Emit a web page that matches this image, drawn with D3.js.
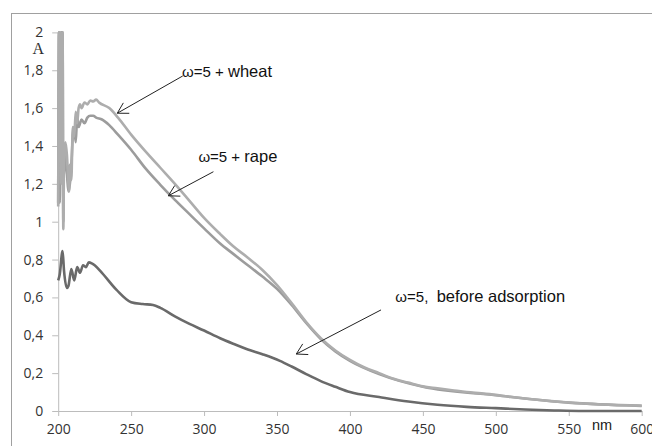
<!DOCTYPE html>
<html>
<head>
<meta charset="utf-8">
<script src="https://cdn.jsdelivr.net/npm/d3@7"></script>
<style>
  body { margin: 0; background: #fff; }
  svg { display: block; }
</style>
</head>
<body>
<div id="chart"></div>
<script>
// wavelengths (nm) and absorbance for each spectrum
var wheatNm = [200,200.5,201.5,202,202.5,203,203.5,204,205,206,207,207.5,208,209,210,211,212,213,214,215,216,218,220,222,224,226,228,235,241,250,260,270,280,290,300,311,320,330,340,350,360,370,380,390,400,410,420,430,440,450,460,470,480,490,500,510,520,530,540,550,560,570,580,590,600];
var wheatA  = [1.08,2.0,2.0,1.2,2.0,2.0,0.96,1.3,1.42,1.35,1.2,1.16,1.3,1.22,1.5,1.45,1.58,1.52,1.6,1.62,1.6,1.63,1.62,1.64,1.635,1.645,1.63,1.6,1.55,1.46,1.37,1.285,1.2,1.11,1.02,0.935,0.87,0.81,0.745,0.665,0.57,0.47,0.385,0.32,0.27,0.23,0.2,0.17,0.15,0.13,0.12,0.11,0.1,0.093,0.085,0.075,0.066,0.058,0.051,0.045,0.04,0.036,0.032,0.03,0.028];

var rapeNm = [200,200.5,201,202,203,203.5,204,205,206,207,208,209,210,211,212,213,214,215,216,218,220,222,224,226,230,235,241,250,260,270,280,290,300,311,320,330,340,350,360,370,380,390,400,420,450,500,550,600];
var rapeA  = [1.1,2.0,1.1,2.0,2.0,1.0,1.4,1.3,1.25,1.16,1.2,1.3,1.45,1.5,1.42,1.55,1.5,1.52,1.54,1.52,1.55,1.56,1.56,1.55,1.54,1.51,1.46,1.38,1.28,1.195,1.115,1.04,0.965,0.885,0.83,0.77,0.71,0.645,0.56,0.465,0.38,0.315,0.265,0.195,0.128,0.083,0.044,0.027];

var beforeNm = [200,201,203,204,206,207,209,211,213,215,217,219,221,223,225,230,240,250,258,265,270,280,290,300,311,320,330,340,352,360,370,380,390,400,420,440,460,480,500,520,540,560,580,600];
var beforeA  = [0.69,0.72,0.845,0.74,0.65,0.66,0.75,0.69,0.76,0.73,0.77,0.76,0.785,0.78,0.77,0.73,0.64,0.575,0.565,0.56,0.545,0.5,0.46,0.425,0.384,0.355,0.325,0.3,0.265,0.235,0.195,0.158,0.128,0.1,0.074,0.05,0.033,0.022,0.015,0.008,0.003,0.0,0.0,0.0];

var xTicks = [200,250,300,350,400,450,500,550,600];
var yTicks = [0,0.2,0.4,0.6,0.8,1,1.2,1.4,1.6,1.8,2];
var yTickLabels = ["0","0,2","0,4","0,6","0,8","1","1,2","1,4","1,6","1,8","2"];

// annotations: label position and arrow (start -> tip) in data units
var notes = [
  {pre: "ω=5 + ", post: "wheat", x: 284.9, y: 1.764, x1: 285.4, y1: 1.77, x2: 240.5, y2: 1.573},
  {pre: "ω=5 + ", post: "rape", x: 296.1, y: 1.313, x1: 306.4, y1: 1.264, x2: 275.5, y2: 1.137},
  {pre: "ω=5,  ", post: "before adsorption", x: 431.1, y: 0.577, x1: 421.3, y1: 0.534, x2: 363.2, y2: 0.301}
];

var width = 652,
    height = 446;

var svg = d3.select("#chart").append("svg")
    .attr("width", width)
    .attr("height", height);

// outer frame (only top and left are inside the picture)
svg.append("rect")
    .attr("x", 11.5).attr("y", 13.5)
    .attr("width", 800).attr("height", 600)
    .attr("fill", "none")
    .attr("stroke", "#a0a0a0");

var x = d3.scaleLinear().domain([200, 600]).range([58.2, 641.7]);
var y = d3.scaleLinear().domain([0, 2]).range([411, 32.4]);

// axes
var xAxis = svg.append("g")
    .attr("transform", "translate(0," + y(0) + ")")
    .call(d3.axisBottom(x).tickValues(xTicks).tickSize(5).tickPadding(8).tickSizeOuter(0));
var yAxis = svg.append("g")
    .attr("transform", "translate(" + x(200) + ",0)")
    .call(d3.axisLeft(y).tickValues(yTicks).tickSize(6).tickPadding(9).tickSizeOuter(0)
      .tickFormat((d, i) => yTickLabels[i]));

[xAxis, yAxis].forEach(g => {
  g.select(".domain").attr("stroke", "#bcbcbc");
  g.selectAll(".tick line").attr("stroke", "#bcbcbc");
  g.selectAll(".tick text")
    .attr("fill", "#333")
    .style("font-family", "'Open Sans', sans-serif")
    .style("font-size", "14px");
});

svg.append("text")
    .attr("x", 44).attr("y", 54)
    .attr("text-anchor", "end")
    .style("font-family", "'Liberation Serif', serif")
    .style("font-size", "16px")
    .attr("fill", "#303030")
    .text("A");

svg.append("text")
    .attr("x", 592).attr("y", 430)
    .style("font-family", "'Liberation Sans', Arial, sans-serif")
    .style("font-size", "14.5px")
    .attr("fill", "#202020")
    .text("nm");

// spectra
var line = d3.line()
    .x(d => x(d[0]))
    .y(d => y(d[1]))
    .curve(d3.curveMonotoneX);

var series = [
  {nm: beforeNm, a: beforeA, color: "#6a6a6a"},
  {nm: rapeNm, a: rapeA, color: "#9c9c9c"},
  {nm: wheatNm, a: wheatA, color: "#adadad"}
];

svg.selectAll("path.spec")
    .data(series)
    .enter()
    .append("path")
    .attr("class", "spec")
    .attr("fill", "none")
    .attr("stroke", d => d.color)
    .attr("stroke-width", 2.6)
    .attr("stroke-linejoin", "round")
    .attr("d", d => line(d.nm.map((v, i) => [v, d.a[i]])));

// annotations
notes.forEach(n => {
  var t = svg.append("text")
      .attr("x", x(n.x)).attr("y", y(n.y))
      .attr("fill", "#111")
      .style("font-family", "'Liberation Sans', Arial, sans-serif")
      .style("white-space", "pre");
  t.append("tspan").style("font-size", "15px").text(n.pre);
  t.append("tspan").style("font-size", "16.5px").text(n.post);

  var sx = x(n.x1), sy = y(n.y1), tx = x(n.x2), ty = y(n.y2);
  svg.append("line")
      .attr("x1", sx).attr("y1", sy).attr("x2", tx).attr("y2", ty)
      .attr("stroke", "#222").attr("stroke-width", 1);

  // open arrow head
  var ang = Math.atan2(sy - ty, sx - tx), len = 12, spread = Math.PI / 6;
  var head = [ang - spread, ang + spread].map(a => [tx + len * Math.cos(a), ty + len * Math.sin(a)]);
  svg.append("path")
      .attr("d", "M" + head[0] + "L" + tx + "," + ty + "L" + head[1])
      .attr("fill", "none")
      .attr("stroke", "#222").attr("stroke-width", 1);
});
</script>
</body>
</html>
